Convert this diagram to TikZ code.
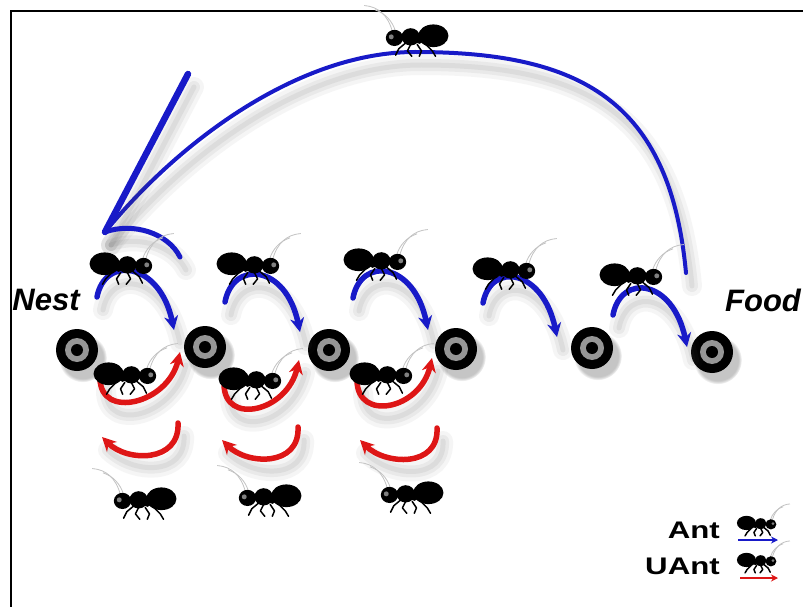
\documentclass[tikz,border=0pt]{standalone}
\usepackage{fontspec}
\setmainfont{Liberation Sans}
\usetikzlibrary{arrows.meta,shadows}

\definecolor{antblue}{RGB}{24,26,200}
\definecolor{antred}{RGB}{222,22,22}
\definecolor{ringgray}{RGB}{150,150,150}
\definecolor{feeler}{RGB}{195,195,195}

\tikzset{
  % soft grey shadow under every curved arrow
  arcshadow/.style={
    preaction={draw=black!70,arrows=-,opacity=0.05,line width=20pt,line cap=round,
               transform canvas={shift={(6pt,-13pt)}}},
    preaction={draw=black!70,arrows=-,opacity=0.07,line width=12pt,line cap=round,
               transform canvas={shift={(6pt,-13pt)}}},
    preaction={draw=black!70,arrows=-,opacity=0.08,line width=5pt,line cap=round,
               transform canvas={shift={(6pt,-13pt)}}}},
  bluearc/.style={draw=antblue,line width=5.5pt,line cap=round,
    -{Stealth[length=14pt,width=14pt]},arcshadow},
  redarc/.style={draw=antred,line width=5.5pt,line cap=round,
    -{Stealth[length=14pt,width=14pt]},arcshadow},
  bigarc/.style={draw=antblue,line width=4pt,line cap=round,arcshadow},
  barb/.style={draw=antblue,line cap=round,arcshadow},
  target/.style={circle,fill=black,minimum size=42pt,inner sep=0pt,
    circular drop shadow={shadow xshift=5pt,shadow yshift=-7pt,shadow scale=1.15,opacity=.45},
    path picture={
      \fill[ringgray] (path picture bounding box.center) circle (12pt);
      \fill[black] (path picture bounding box.center) circle (6pt);}},
  placelabel/.style={inner sep=0pt,font=\fontsize{31}{31}\selectfont\bfseries\itshape},
  keylabel/.style={inner sep=0pt,anchor=base east,xscale=1.3,
    font=\fontsize{24}{24}\selectfont\bfseries},
  antleg/.style={draw=black,line width=1.5pt,line join=round,line cap=round},
  antenna/.style={draw=feeler,line width=0.8pt},
  % an ant walking to the right; mirror it with xscale=-1
  ant/.pic={
    \path[antenna] (21,-7) .. controls (25,-22) and (34,-30) .. (47,-31);
    \path[antenna] (18,-7) .. controls (21,-17) and (28,-24) .. (37,-27);
    \path[antleg] (-10,5) -- (-16,11) -- (-19,16);
    \path[antleg] (-2,5) -- (-6,11) -- (-4,16);
    \path[antleg] (4,5) -- (7,11) -- (3,16);
    \path[antleg] (9,4) -- (15,9) -- (18,15);
    \fill[black] (-17,-3) ellipse (14 and 10.5);
    \fill[black] (-4,0) ellipse (4 and 4.5);
    \fill[black] (4,-2) ellipse (8.5 and 8);
    \fill[black] (19,-1) ellipse (8 and 7.5);
    \fill[gray] (22,-2) circle (2.3);
  }
}

\begin{document}
\begin{tikzpicture}[x=1pt,y=-1pt]
\useasboundingbox[fill=white] (0,0) rectangle (803,607);

% frame
\draw[line width=2.5pt] (11,607) -- (11,11) -- (803,11);

% path positions
\node[target] (n1) at (77,350) {};
\node[target] (n2) at (205,347) {};
\node[target] (n3) at (329,350) {};
\node[target] (n4) at (456,349) {};
\node[target] (n5) at (592,348) {};
\node[target] (n6) at (712,352) {};

\node[placelabel] (nest) at (46,300) {Nest};
\node[placelabel] (food) at (763,300) {Food};

% return trip from food to nest
\coordinate (bigstart) at (686,273);
\coordinate (bigtop) at (415,52);
\coordinate (bigtip) at (105,232);
\coordinate (barbup) at (188,74);
\coordinate (barbdown) at (180,257);
\draw[bigarc] (bigstart) .. controls (670,100) and (580,52) .. (bigtop)
  .. controls (300,52) and (180,140) .. (bigtip);
\draw[barb,line width=6.5pt] (bigtip) -- (barbup);
\draw[barb,line width=5pt] (bigtip) .. controls +(28,-10) and +(-12,-24) .. (barbdown);

% forward steps (Ant)
\coordinate (f1s) at (97,297);  \coordinate (f1t) at (174,330);
\coordinate (f2s) at (225,302); \coordinate (f2t) at (300,332);
\coordinate (f3s) at (353,298); \coordinate (f3t) at (428,330);
\coordinate (f4s) at (483,303); \coordinate (f4t) at (557,337);
\coordinate (f5s) at (613,315); \coordinate (f5t) at (687,347);
\foreach \i in {1,...,5}
  \draw[bluearc] (f\i s) .. controls +(8,-42) and +(-14,-68) .. (f\i t);

% forward steps (UAnt)
\coordinate (u1s) at (100,378); \coordinate (u1t) at (180,352);
\coordinate (u2s) at (224,384); \coordinate (u2t) at (299,360);
\coordinate (u3s) at (357,380); \coordinate (u3t) at (432,358);
\foreach \i in {1,2,3}
  \draw[redarc] (u\i s) .. controls +(0,42) and +(-12,52) .. (u\i t);

% backward steps (UAnt)
\coordinate (r1s) at (178,423); \coordinate (r1t) at (102,437);
\coordinate (r2s) at (298,427); \coordinate (r2t) at (222,440);
\coordinate (r3s) at (437,428); \coordinate (r3t) at (360,440);
\foreach \i in {1,2,3}
  \draw[redarc] (r\i s) .. controls +(2,40) and +(25,25) .. (r\i t);

% ants
\pic[scale=1.08] (a1) at (123,267) {ant};
\pic[scale=1.08] (a2) at (250,267) {ant};
\pic[scale=1.08] (a3) at (377,263) {ant};
\pic[scale=1.08] (a4) at (506,272) {ant};
\pic[scale=1.08] (a5) at (633,278) {ant};
\pic[xscale=-1.08,yscale=1.08] (a0) at (415,39) {ant};
\pic[scale=1.08] (m1) at (127,377) {ant};
\pic[scale=1.08] (m2) at (252,382) {ant};
\pic[scale=1.08] (m3) at (383,377) {ant};
\pic[xscale=-1.08,yscale=1.08] (b1) at (143,502) {ant};
\pic[xscale=-1.08,yscale=1.08] (b2) at (268,499) {ant};
\pic[xscale=-1.08,yscale=1.08] (b3) at (410,496) {ant};

% legend
\node[keylabel] (keyant) at (720,538) {Ant};
\node[keylabel] (keyuant) at (720,574) {UAnt};
\pic[scale=0.68] (k1) at (758,525) {ant};
\pic[scale=0.68] (k2) at (758,562) {ant};
\coordinate (k1s) at (738,540); \coordinate (k1t) at (778,540);
\coordinate (k2s) at (740,578); \coordinate (k2t) at (778,578);
\draw[draw=antblue,line width=1.8pt,-{Stealth[length=7pt,width=7pt]}] (k1s) -- (k1t);
\draw[draw=antred,line width=1.8pt,-{Stealth[length=7pt,width=7pt]}] (k2s) -- (k2t);
\end{tikzpicture}
\end{document}
